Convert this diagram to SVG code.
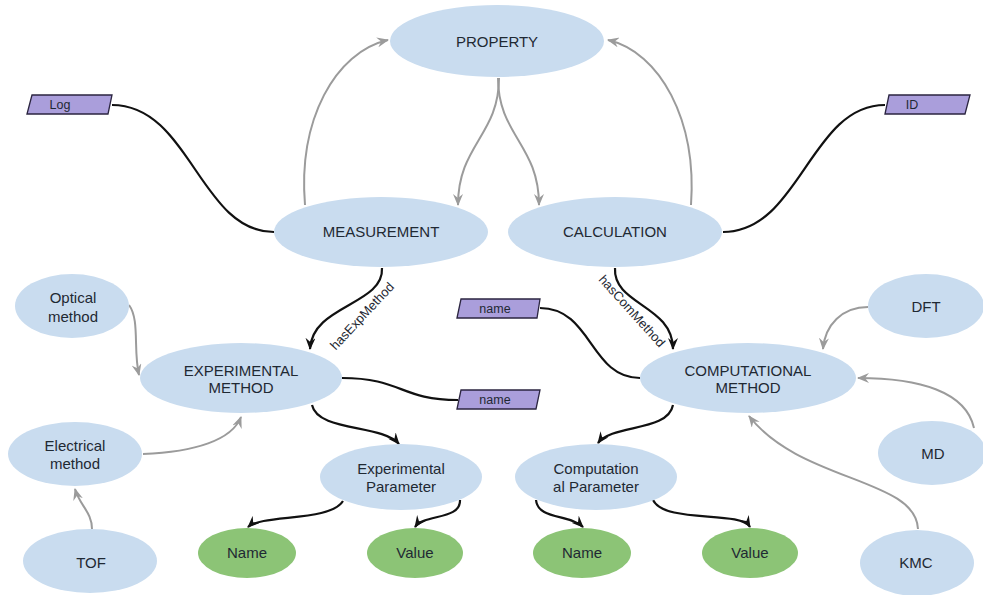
<svg xmlns="http://www.w3.org/2000/svg" width="983" height="595" viewBox="0 0 983 595">
  <style>
    .n { fill: #c9dcef; }
    .g { fill: #8cc476; }
    .tag { fill: #aa9edb; stroke: #2b2540; stroke-width: 1.3; }
    text { font-family: "Liberation Sans", Arial, Helvetica, sans-serif; fill: #1f2933; text-anchor: middle; }
    .t { font-size: 15px; }
    .s { font-size: 12.5px; }
    .lbl { font-size: 13px; dominant-baseline: central; }
    .blk { fill: none; stroke: #111; stroke-width: 2.2; }
    .gry { fill: none; stroke: #9b9b9b; stroke-width: 2; }
  </style>
  <defs>
    <marker id="ab" viewBox="0 0 12 10" refX="11" refY="5" markerWidth="12" markerHeight="10" markerUnits="userSpaceOnUse" orient="auto">
      <path d="M0,0 L12,5 L0,10 L4,5 z" fill="#111"/>
    </marker>
    <marker id="ag" viewBox="0 0 12 10" refX="11" refY="5" markerWidth="12" markerHeight="10" markerUnits="userSpaceOnUse" orient="auto">
      <path d="M0,0 L12,5 L0,10 L4,5 z" fill="#9b9b9b"/>
    </marker>
  </defs>

  <g id="connectors">
    <!-- attribute links (no arrowhead) -->
    <path class="blk" d="M112,105 C190,105 200,232 274,232"/>
    <path class="blk" d="M723,232 C800,232 810,105 885,105"/>
    <path class="blk" d="M540,308 C592,308 590,378 640,378"/>
    <path class="blk" d="M342,378 C402,378 400,400 458,400"/>
    <!-- PROPERTY links -->
    <path class="gry" marker-end="url(#ag)" d="M305,205 C298,120 335,52 388,40"/>
    <path class="gry" marker-end="url(#ag)" d="M691,205 C697,120 660,52 608,40"/>
    <path class="gry" marker-end="url(#ag)" d="M499,78 C499,135 458,145 458,205"/>
    <path class="gry" marker-end="url(#ag)" d="M498,78 C498,135 539,145 539,205"/>
    <!-- method links -->
    <path class="blk" marker-end="url(#ab)" d="M382,268 C384,305 312,305 310,349"/>
    <path class="blk" marker-end="url(#ab)" d="M615,268 C613,305 673,305 673,349"/>
    <!-- method sources -->
    <path class="gry" marker-end="url(#ag)" d="M129,305 C140,320 133,350 139,375"/>
    <path class="gry" marker-end="url(#ag)" d="M143,454 C195,452 232,440 241,417"/>
    <path class="gry" marker-end="url(#ag)" d="M92,529 C92,512 80,506 75,489"/>
    <path class="gry" marker-end="url(#ag)" d="M868,307 C842,307 825,325 823,349"/>
    <path class="gry" marker-end="url(#ag)" d="M974,428 C966,392 920,378 858,378"/>
    <path class="gry" marker-end="url(#ag)" d="M918,529 C916,478 800,482 749,416"/>
    <!-- parameter links -->
    <path class="blk" marker-end="url(#ab)" d="M312,405 C318,432 382,424 399,444"/>
    <path class="blk" marker-end="url(#ab)" d="M673,405 C668,432 612,424 598,443"/>
    <path class="blk" marker-end="url(#ab)" d="M343,501 C330,522 262,514 248,527"/>
    <path class="blk" marker-end="url(#ab)" d="M460,500 C461,520 424,514 415,527"/>
    <path class="blk" marker-end="url(#ab)" d="M536,500 C538,520 570,514 583,527"/>
    <path class="blk" marker-end="url(#ab)" d="M653,500 C665,524 740,510 750,527"/>
    <!-- edge labels -->
    <text class="lbl" transform="translate(362,316) rotate(-47)">hasExpMethod</text>
    <text class="lbl" transform="translate(632,311) rotate(48)">hasComMethod</text>
  </g>

  <g id="property"><ellipse class="n" cx="497" cy="41" rx="107" ry="36"/><text class="t" x="497" y="47">PROPERTY</text></g>
  <g id="measurement"><ellipse class="n" cx="381" cy="232" rx="107" ry="35"/><text class="t" x="381" y="237">MEASUREMENT</text></g>
  <g id="calculation"><ellipse class="n" cx="615" cy="232" rx="107" ry="35"/><text class="t" x="615" y="237">CALCULATION</text></g>

  <g id="log"><polygon class="tag" points="27,114 32,95 112,95 108,114"/><text class="s" x="60" y="109">Log</text></g>
  <g id="id"><polygon class="tag" points="885,114 889,95 970,95 965,114"/><text class="s" x="912" y="109">ID</text></g>
  <g id="name-com"><polygon class="tag" points="457,318 461,299 540,299 537,318"/><text class="s" x="495" y="313">name</text></g>
  <g id="name-exp"><polygon class="tag" points="457,409 461,390 540,390 536,409"/><text class="s" x="495" y="404">name</text></g>

  <g id="experimental-method"><ellipse class="n" cx="241" cy="378" rx="101" ry="35"/><text class="t" x="241" y="376">EXPERIMENTAL</text><text class="t" x="241" y="393">METHOD</text></g>
  <g id="computational-method"><ellipse class="n" cx="748" cy="378" rx="108" ry="35"/><text class="t" x="748" y="376">COMPUTATIONAL</text><text class="t" x="748" y="393">METHOD</text></g>

  <g id="optical"><ellipse class="n" cx="72" cy="306" rx="57" ry="32"/><text class="t" x="73" y="303">Optical</text><text class="t" x="73" y="322">method</text></g>
  <g id="electrical"><ellipse class="n" cx="75" cy="454" rx="67" ry="32"/><text class="t" x="75" y="451">Electrical</text><text class="t" x="75" y="469">method</text></g>
  <g id="tof"><ellipse class="n" cx="90" cy="561" rx="67" ry="32"/><text class="t" x="91" y="568">TOF</text></g>

  <g id="exp-parameter"><ellipse class="n" cx="401" cy="477" rx="81" ry="33"/><text class="t" x="401" y="474">Experimental</text><text class="t" x="401" y="492">Parameter</text></g>
  <g id="com-parameter"><ellipse class="n" cx="596" cy="477" rx="81" ry="33"/><text class="t" x="596" y="474">Computation</text><text class="t" x="596" y="492">al Parameter</text></g>

  <g id="exp-name"><ellipse class="g" cx="247" cy="553" rx="49" ry="25"/><text class="t" x="247" y="558">Name</text></g>
  <g id="exp-value"><ellipse class="g" cx="415" cy="553" rx="48" ry="25"/><text class="t" x="415" y="558">Value</text></g>
  <g id="com-name"><ellipse class="g" cx="582" cy="553" rx="49" ry="25"/><text class="t" x="582" y="558">Name</text></g>
  <g id="com-value"><ellipse class="g" cx="750" cy="553" rx="48" ry="25"/><text class="t" x="750" y="558">Value</text></g>

  <g id="dft"><ellipse class="n" cx="926" cy="306" rx="58" ry="32"/><text class="t" x="926" y="312">DFT</text></g>
  <g id="md"><ellipse class="n" cx="932" cy="453" rx="54" ry="32"/><text class="t" x="933" y="459">MD</text></g>
  <g id="kmc"><ellipse class="n" cx="917" cy="563" rx="57" ry="33"/><text class="t" x="916" y="568">KMC</text></g>
</svg>
